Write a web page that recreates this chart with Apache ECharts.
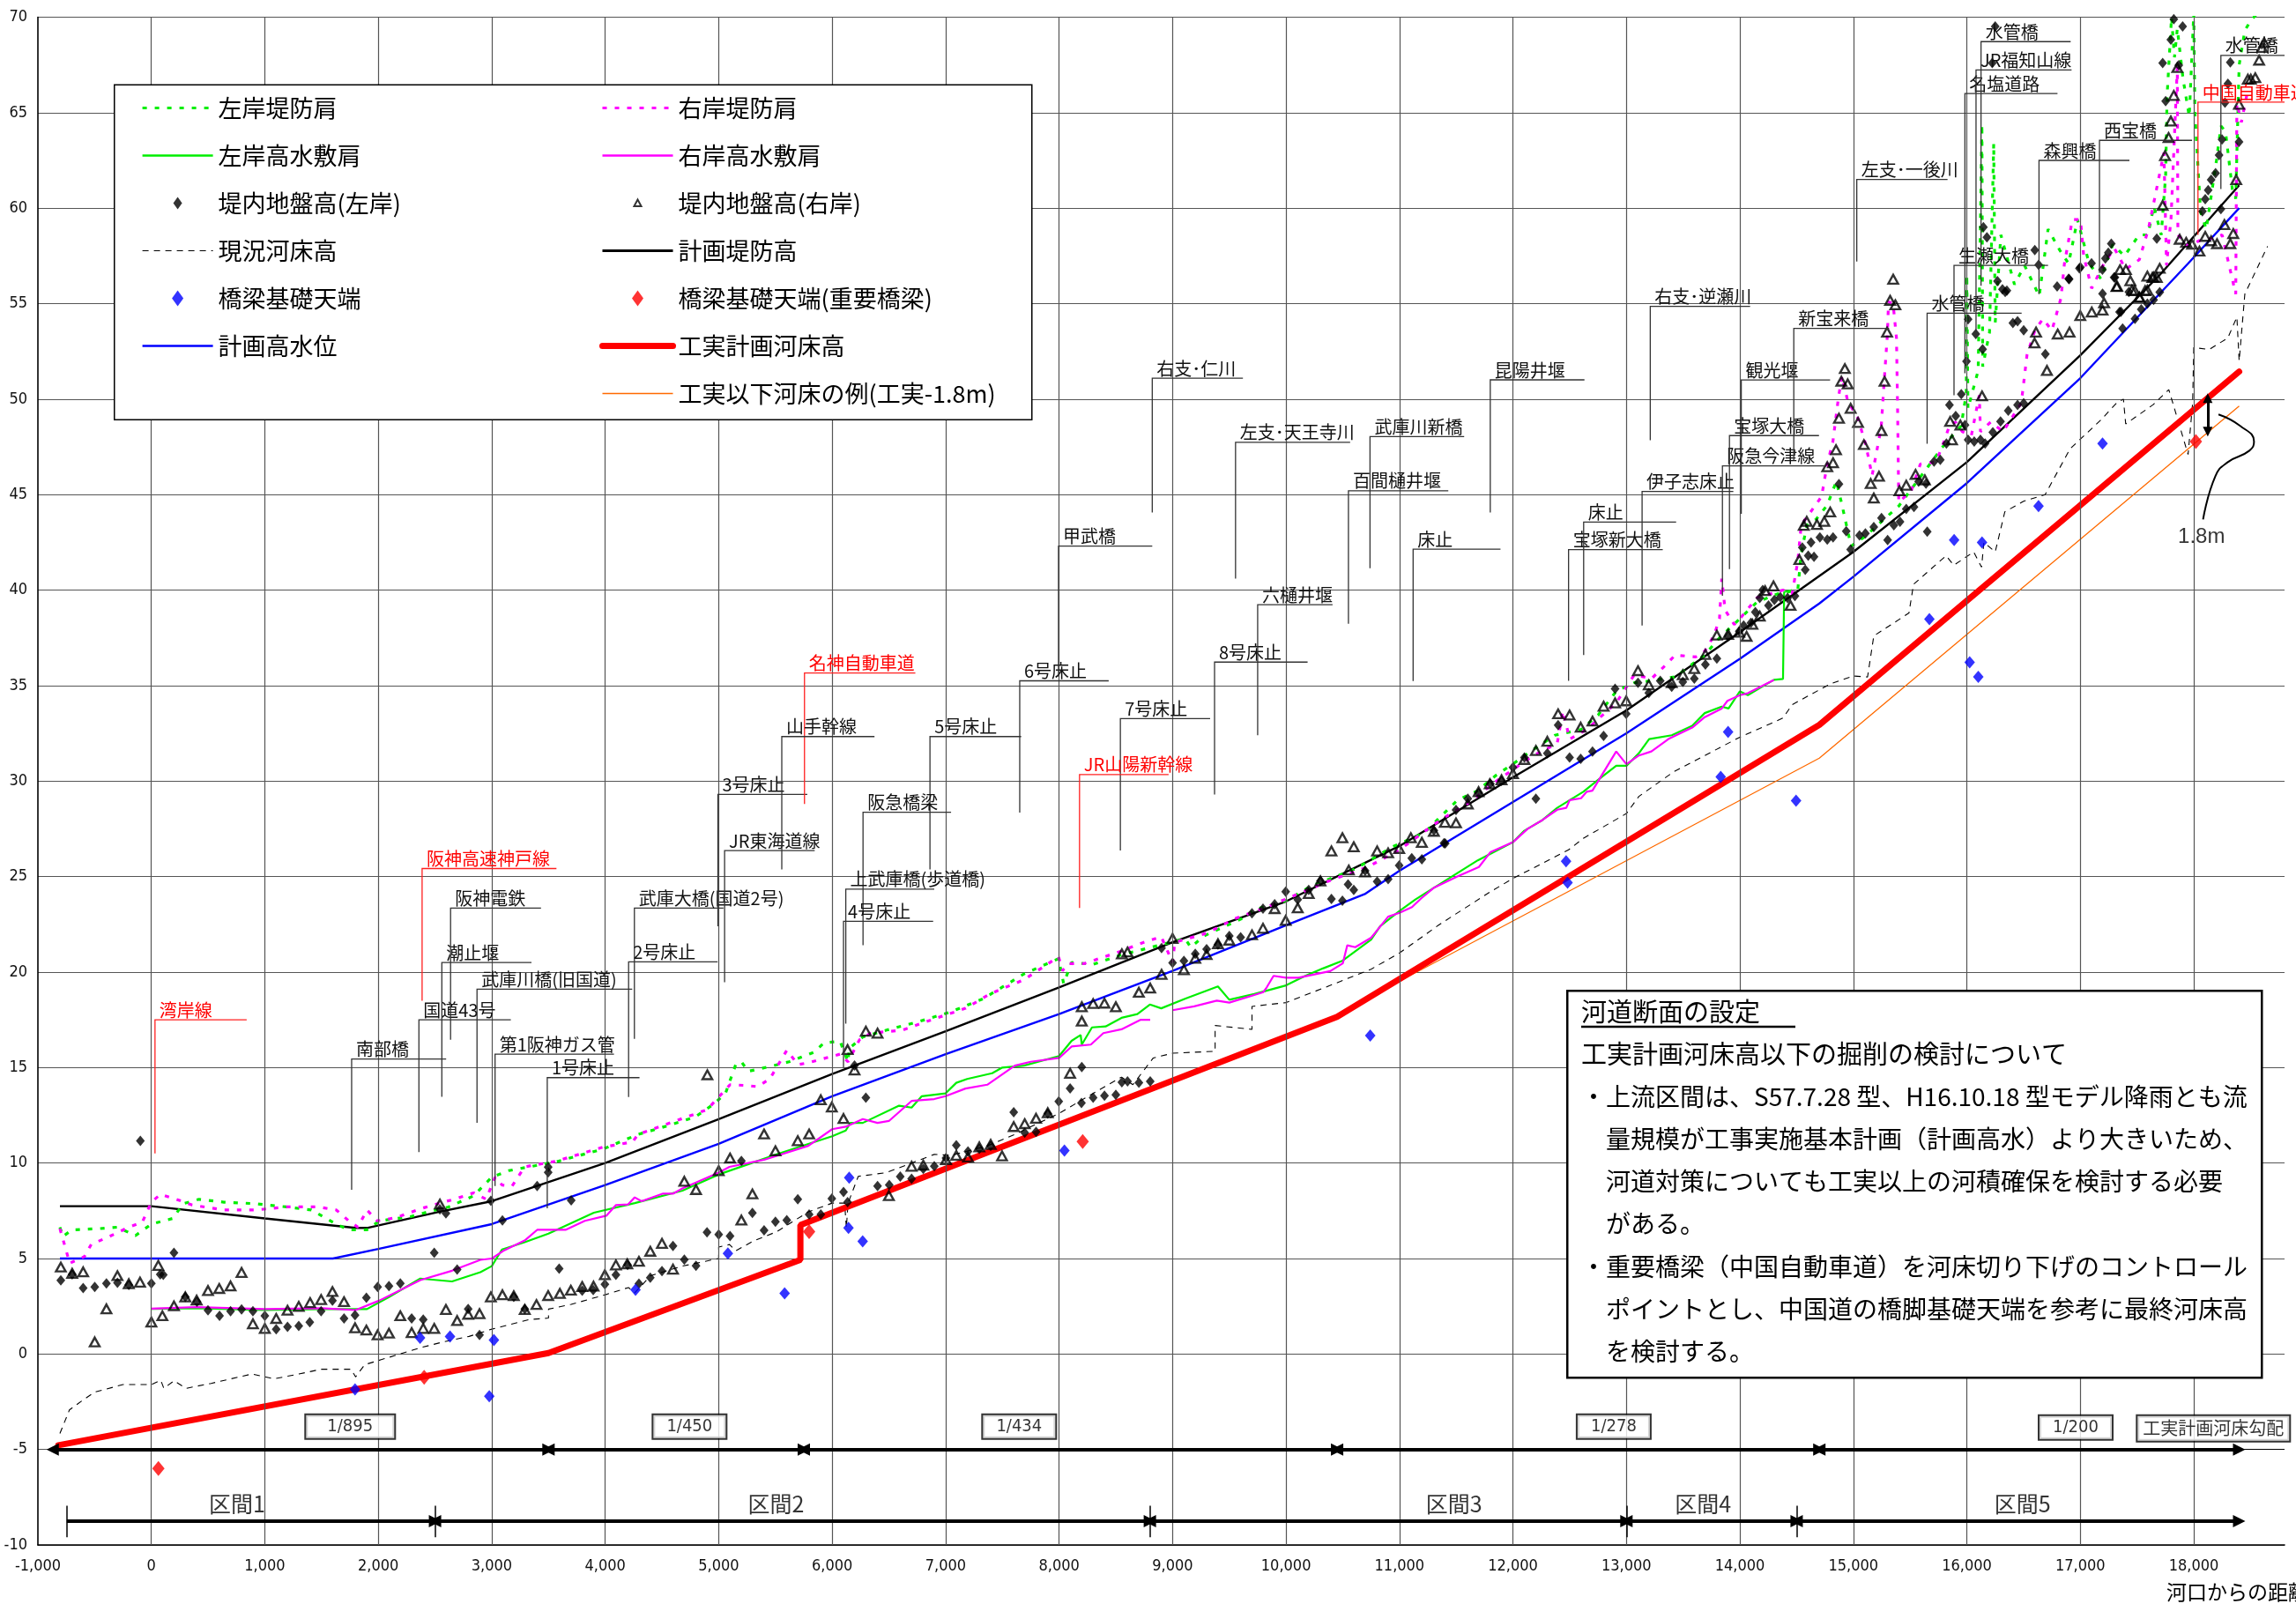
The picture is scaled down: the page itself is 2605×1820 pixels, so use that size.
<!DOCTYPE html>
<html>
<head>
<meta charset="utf-8">
<script src="https://cdn.jsdelivr.net/npm/echarts/dist/echarts.min.js"></script>
<style>
html,body{margin:0;padding:0;background:#fff;}
#chart{width:2605px;height:1820px;}
</style>
</head>
<body>
<div id="chart"></div>
<script>
// 武庫川 縦断図：河口からの距離 (m) と標高 (m)

const xTicks = [0,1000,2000,3000,4000,5000,6000,7000,8000,9000,10000,11000,12000,13000,14000,15000,16000,17000,18000];

// 左岸堤防肩
const dikeLeft = [[-806,6.64],[-780,6.15],[-700,6.5],[-470,6.56],[-300,6.64],[-140,6.2],[0,6.8],[190,7.1],[280,7.87],[420,8.1],[640,7.95],[915,7.87],[1190,7.7],[1410,7.54],[1630,6.8],[1740,6.5],[1900,6.5],[2010,6.97],[2290,7.2],[2450,7.46],[2620,7.7],[2840,8.28],[3000,9.26],[3150,9.6],[3570,10.07],[3980,10.73],[4290,11.5],[4450,11.77],[4790,12.4],[4960,13.1],[5060,13.65],[5150,15.15],[5200,15.3],[5260,14.8],[5450,15.05],[5620,15.3],[5840,15.8],[5930,16.3],[6070,16.37],[6140,15.3],[6150,16.0],[6270,16.6],[6480,16.96],[6760,17.4],[7040,17.9],[7330,18.6],[7690,19.9],[7995,20.7],[8040,19.4],[8110,20.5],[8300,20.4],[8550,20.9],[8880,21.4],[9110,21.76],[9160,21.3],[9280,21.9],[9610,22.8],[9720,23.26],[10000,23.74],[10220,24.5],[10610,25.4],[10940,26.56],[11220,27.3],[11510,29.0],[11690,29.5],[11850,30.3],[12000,30.9],[12130,31.45],[12370,32.4],[12600,32.7],[12750,33.45],[12910,34.7],[13070,35.15],[13220,35.25],[13430,35.46],[13690,36.6],[13820,37.5],[14000,38.5],[14150,39.37],[14330,39.8],[14510,40.0],[14540,41.9],[14590,43.4],[14670,43.7],[14770,44.45],[14850,45.7],[14900,44.45],[14980,42.3],[15100,42.8],[15250,43.6],[15400,44.4],[15600,46.0],[15800,47.6],[15950,48.6],[15995,50.3],[16000,56.5],[16010,49.5],[16100,51.5],[16133,64.4],[16140,51.7],[16200,53.5],[16237,63.4],[16250,54.0],[16300,58.6],[16420,56.0],[16509,57.0],[16638,55.4],[16716,58.9],[16819,57.8],[16897,57.1],[16975,59.4],[17078,57.1],[17182,56.3],[17286,58.1],[17389,57.5],[17519,58.6],[17596,58.6],[17648,60.1],[17713,58.6],[17752,61.7],[17765,65.9],[17804,70.0],[17830,67.9],[17855,69.4],[17905,66.8],[17960,64.8],[18000,70.2],[18010,65.0],[18060,59.8],[18110,58.9],[18200,62.5],[18240,64.3],[18280,64.0],[18340,61.0],[18370,60.5],[18400,67.5],[18450,69.3],[18500,69.8],[18560,70.2]];

// 右岸堤防肩
const dikeRight = [[-806,6.56],[-750,5.4],[-720,4.75],[-590,5.1],[-530,5.74],[-370,6.15],[-200,6.64],[-80,6.9],[0,7.95],[80,8.36],[220,8.1],[360,7.8],[640,7.54],[915,7.54],[1190,7.7],[1470,7.7],[1630,7.54],[1740,6.97],[1820,6.64],[1900,7.54],[1990,6.97],[2150,7.13],[2370,7.6],[2570,7.95],[2670,8.1],[2840,8.44],[2950,8.11],[3030,9.26],[3090,8.85],[3180,8.8],[3290,9.8],[3570,10.1],[3980,10.83],[4240,11.1],[4290,11.5],[4680,12.33],[4900,12.8],[4960,13.2],[5100,14.1],[5240,14.06],[5340,14.0],[5450,14.4],[5600,15.9],[5700,15.15],[5790,15.25],[6070,15.7],[6140,15.3],[6240,16.45],[6340,16.8],[6620,16.96],[6900,17.55],[7175,18.1],[7390,18.85],[7690,19.6],[7995,20.8],[8030,20.07],[8080,20.44],[8220,20.44],[8550,21.1],[8720,21.5],[8900,21.85],[9000,20.5],[9020,21.56],[9280,22.0],[9390,22.3],[9550,22.8],[9830,23.4],[10110,24.1],[10390,24.8],[10720,25.5],[11000,26.4],[11360,27.96],[11620,28.9],[11870,30.07],[12000,30.6],[12180,31.34],[12390,31.97],[12440,33.67],[12500,32.2],[12650,32.7],[12910,34.1],[13070,35.57],[13220,35.36],[13350,36.1],[13430,36.6],[13610,36.5],[13690,36.8],[13770,37.6],[13820,38.5],[13840,40.6],[13870,38.95],[13950,38.2],[14000,38.5],[14150,39.6],[14380,40.0],[14460,39.8],[14510,41.5],[14540,43.4],[14720,44.9],[14770,46.6],[14820,47.8],[14870,50.15],[14900,51.2],[14950,49.9],[15040,49.0],[15110,47.6],[15165,46.0],[15245,48.5],[15270,50.8],[15300,53.4],[15310,55.1],[15350,55.0],[15380,53.2],[15390,49.4],[15400,44.6],[15510,45.2],[15590,46.6],[15720,46.7],[15770,47.3],[15850,48.65],[15900,48.8],[15960,48.3],[16040,48.1],[16110,50.2],[16120,48.3],[16210,48.8],[16320,48.3],[16480,49.8],[16530,52.3],[16600,53.6],[16670,54.2],[16750,53.6],[16830,55.3],[16860,57.1],[16930,59.4],[17001,59.4],[17030,57.5],[17100,55.8],[17200,57.0],[17300,57.9],[17400,56.8],[17520,57.3],[17600,58.9],[17737,62.9],[17760,57.0],[17800,59.5],[17855,67.4],[17860,58.6],[17950,58.0],[18050,58.3],[18150,58.4],[18250,58.6],[18370,55.5],[18380,65.5],[18420,64.5],[18470,66.0]];

// 左岸高水敷肩
const terraceLeft = [[0,2.36],[400,2.4],[1000,2.3],[1500,2.35],[1900,2.35],[2090,2.97],[2370,3.95],[2650,3.8],[2900,4.28],[3000,4.6],[3090,5.47],[3290,5.85],[3500,6.3],[3900,7.4],[4260,7.9],[4680,8.55],[5000,9.4],[5510,10.45],[5790,11.0],[6000,11.4],[6120,11.7],[6160,12.1],[6270,12.1],[6590,13.0],[6700,12.9],[6790,13.5],[7000,13.65],[7094,14.2],[7190,14.4],[7410,14.7],[7500,15.0],[7690,15.1],[8000,15.6],[8110,16.4],[8190,16.7],[8200,16.2],[8290,17.1],[8410,17.15],[8550,17.6],[8690,17.8],[8800,18.3],[8900,18.1],[9110,18.6],[9400,19.25],[9500,18.55],[9720,18.85],[10000,19.3],[10170,19.8],[10330,20.2],[10500,20.6],[10750,21.7],[10830,22.4],[11000,23.2],[11140,23.8],[11300,24.4],[11690,25.85],[12000,26.8],[12100,27.4],[12260,27.96],[12390,28.6],[12500,29.0],[12620,29.44],[12750,30.06],[12910,30.8],[13000,30.8],[13110,31.46],[13200,32.2],[13400,32.4],[13580,32.9],[13690,33.56],[13840,33.9],[13900,33.8],[14000,34.7],[14070,34.5],[14200,34.96],[14300,35.3],[14380,35.35],[14390,39.9],[14460,40.0]];

// 右岸高水敷肩
const terraceRight = [[0,2.37],[400,2.45],[1000,2.35],[1500,2.4],[1800,2.3],[2010,2.8],[2370,3.87],[2650,4.36],[2900,4.93],[3000,5.0],[3110,5.43],[3290,5.94],[3400,6.5],[3650,6.5],[3820,6.97],[4010,7.24],[4095,7.8],[4200,7.83],[4260,8.2],[4320,8.0],[4510,8.4],[4600,8.4],[4680,8.67],[5000,9.5],[5095,9.8],[5400,10.17],[5790,10.9],[6000,11.77],[6120,11.9],[6270,12.3],[6400,12.1],[6500,12.2],[6700,13.25],[6900,13.35],[7000,13.5],[7175,13.9],[7367,14.1],[7610,15.1],[7750,15.3],[8000,15.5],[8110,16.1],[8280,16.2],[8390,16.8],[8550,17.0],[8720,17.5],[8803,17.5],[8900,null],[9000,18.0],[9190,18.2],[9390,18.5],[9500,18.4],[9720,18.8],[9800,18.95],[9830,19.2],[9890,19.8],[10000,19.7],[10110,19.7],[10390,20.05],[10500,20.45],[10540,21.4],[10610,21.3],[10750,21.8],[10900,22.9],[11000,23.1],[11110,23.4],[11190,23.85],[11300,24.4],[11510,25.0],[11700,25.5],[11800,26.27],[12000,26.8],[12130,27.5],[12260,27.96],[12390,28.5],[12470,28.6],[12500,29.0],[12600,29.1],[12650,29.44],[12700,29.5],[12910,31.55],[13000,30.88],[13110,31.34],[13220,31.55],[13370,32.2],[13580,32.8],[13690,33.35],[13840,33.8],[13890,34.2],[14000,34.5],[14070,34.6],[14300,35.3]];

// 堤内地盤高(左岸)
const groundLeft = [[-97,11.16],[-798,3.86],[-698,4.17],[-601,3.45],[-499,3.51],[-396,3.7],[-299,3.73],[-199,3.61],[0,3.7],[78,4.17],[105,4.14],[199,5.3],[299,2.99],[402,2.74],[499,2.29],[601,2.0],[698,2.24],[795,2.33],[895,2.24],[1000,2.0],[1100,1.29],[1200,1.42],[1299,1.47],[1396,1.67],[1496,2.24],[1596,2.79],[1698,1.86],[1795,2.03],[1895,2.94],[1994,3.51],[2094,3.56],[2194,3.7],[2294,1.86],[2396,1.8],[2493,5.3],[2543,7.57],[2596,7.36],[2695,4.42],[2792,2.36],[2892,1.0],[2992,8.02],[3094,7.0],[3194,2.99],[3291,2.36],[3400,8.8],[3497,9.79],[3497,9.51],[3700,8.05],[3594,4.47],[3797,3.31],[3894,3.35],[3997,3.65],[4094,4.15],[4197,4.66],[4297,3.68],[4397,4.0],[4500,4.34],[4597,5.66],[4697,4.94],[4800,4.62],[4897,6.37],[5000,6.26],[5100,6.18],[5200,10.11],[5297,7.39],[5400,6.47],[5500,6.92],[5600,7.01],[5697,8.1],[5797,7.31],[5900,7.31],[5997,8.14],[6100,8.48],[6136,7.95],[6197,15.11],[6297,13.42],[6400,8.8],[6503,8.85],[6600,9.29],[6700,9.17],[6803,9.7],[6900,9.83],[7003,10.26],[7094,10.93],[7197,10.61],[7297,10.74],[7397,10.89],[7600,12.66],[7697,11.59],[7797,11.63],[7900,12.59],[7997,13.23],[8097,13.91],[8200,15.02],[8197,13.14],[8300,13.42],[8400,13.53],[8500,13.57],[8553,14.23],[8603,14.27],[8703,14.21],[8803,14.27],[8903,21.25],[9000,20.48],[9100,20.59],[9200,20.95],[9300,21.2],[9400,21.44],[9500,21.89],[9600,21.82],[9700,23.08],[9797,23.32],[9900,23.55],[9997,24.21],[10103,23.79],[10200,24.3],[10303,24.77],[10400,23.83],[10497,23.74],[10547,24.59],[10597,24.3],[10697,25.3],[10803,24.74],[10900,24.87],[10997,25.58],[11108,25.96],[11197,25.9],[11303,27.41],[11392,26.75],[11403,26.73],[11498,28.49],[11602,29.08],[11697,29.38],[11801,29.86],[11899,30.01],[12000,30.71],[12101,31.24],[12202,29.08],[12303,31.45],[12398,32.93],[12499,31.24],[12597,31.17],[12701,31.55],[12799,32.36],[12900,34.83],[12998,33.52],[13102,35.15],[13197,34.62],[13298,35.25],[13399,34.94],[13497,35.19],[13598,35.36],[13696,36.1],[13797,36.42],[13896,37.58],[13994,37.85],[14033,38.15],[14097,38.28],[14136,38.85],[14175,39.59],[14201,40.0],[14252,39.2],[14304,39.48],[14356,39.63],[14420,39.59],[14485,39.69],[14550,42.23],[14576,41.07],[14602,41.8],[14627,42.5],[14653,41.74],[14705,42.76],[14770,42.65],[14821,42.76],[14873,45.55],[14937,43.08],[14976,42.12],[15054,42.86],[15106,42.97],[15180,43.3],[15248,43.77],[15302,42.62],[15357,43.39],[15411,43.58],[15466,44.25],[15534,44.35],[15575,45.68],[15640,45.58],[15651,43.06],[15711,46.73],[15766,46.82],[15820,47.68],[15847,49.69],[15902,49.12],[15951,50.26],[15984,48.64],[16011,47.87],[16065,47.78],[16120,47.87],[16161,47.68],[16229,48.26],[16297,48.83],[16365,49.4],[16447,49.69],[16501,49.79],[15997,51.98],[16011,54.18],[16079,53.41],[16139,52.61],[16270,56.18],[16338,55.61],[16406,53.99],[16447,54.08],[16501,53.6],[16692,52.36],[16796,55.9],[16902,56.28],[16992,56.85],[17196,55.52],[17305,56.38],[17346,54.56],[17428,55.61],[17373,53.7],[17482,54.2],[17537,54.7],[17591,55.0],[17646,55.2],[17700,55.6],[16250,69.52],[16224,67.6],[16146,59.01],[16177,58.47],[16314,55.75],[16353,55.68],[16599,57.8],[16633,57.03],[16897,56.3],[17001,56.9],[17099,57.11],[17195,56.78],[17221,57.37],[17247,57.67],[17273,58.14],[17298,56.37],[17358,54.57],[17674,58.41],[17726,67.6],[17752,65.6],[17798,68.82],[17824,69.9],[17902,69.52],[17868,67.49],[18076,59.83],[18101,60.47],[18127,60.94],[18153,61.49],[18192,61.83],[18223,62.78],[18249,63.6],[18239,59.95],[18275,65.52],[18301,66.52],[18322,67.64],[18399,63.47]];

// 堤内地盤高(右岸)
const groundRight = [[-798,4.55],[-698,4.22],[-601,4.3],[-499,0.63],[-396,2.36],[-299,4.1],[-199,3.68],[-100,3.76],[0,1.67],[61,4.64],[97,2.0],[199,2.52],[299,2.99],[399,2.82],[499,3.32],[598,3.43],[698,3.56],[795,4.27],[895,1.58],[1000,1.34],[1100,1.86],[1200,2.29],[1299,2.49],[1399,2.69],[1496,2.85],[1596,3.27],[1698,2.74],[1795,1.37],[1895,1.25],[1994,1.0],[2094,1.09],[2194,2.0],[2294,1.12],[2396,1.34],[2493,1.34],[2543,7.85],[2596,2.33],[2695,1.75],[2792,2.08],[2892,2.11],[2992,2.99],[3094,3.1],[3194,3.05],[3291,2.33],[3394,2.59],[3497,3.06],[3600,3.17],[3697,3.34],[3797,3.53],[3897,3.55],[3997,4.15],[4094,4.66],[4194,4.72],[4297,4.85],[4397,5.38],[4500,5.79],[4597,4.44],[4697,9.04],[4800,8.61],[4900,14.62],[5000,9.6],[5100,10.26],[5200,7.01],[5297,8.38],[5400,11.52],[5500,10.64],[5697,11.17],[5797,11.52],[5900,13.31],[5997,12.93],[6100,12.33],[6136,15.94],[6197,14.87],[6297,16.9],[6400,16.8],[6500,8.29],[6700,9.83],[6803,9.89],[7003,10.17],[7094,10.4],[7197,10.31],[7297,10.84],[7397,10.97],[7497,10.37],[7600,11.91],[7697,12.06],[7797,12.34],[7900,12.63],[8097,14.7],[8200,18.18],[8200,17.43],[8300,18.35],[8400,18.37],[8500,18.18],[8553,20.95],[8603,21.05],[8703,18.94],[8803,19.16],[8903,19.88],[9000,21.76],[9100,20.12],[9200,20.72],[9300,20.91],[9400,21.48],[9500,21.67],[9700,21.95],[9797,22.29],[9900,23.32],[9997,22.7],[10103,23.36],[10200,24.11],[10303,24.77],[10400,26.34],[10497,27.03],[10597,26.56],[10553,25.34],[10697,25.24],[10803,26.34],[10900,26.24],[10997,26.47],[11100,27.03],[11197,26.79],[11303,27.37],[11400,27.84],[11498,27.81],[11602,28.8],[11697,29.44],[11796,29.86],[11899,30.07],[12000,30.39],[12101,31.13],[12202,31.6],[12303,32.08],[12398,33.52],[12499,33.46],[12597,32.82],[12701,33.14],[12799,33.92],[12900,34.09],[12998,34.2],[13102,35.78],[13197,35.04],[13399,35.15],[13497,35.57],[13598,35.89],[13696,36.63],[13797,37.64],[13896,37.68],[13994,37.79],[14059,37.58],[14110,38.21],[14175,38.64],[14222,39.97],[14296,40.22],[14446,39.2],[14524,41.6],[14563,43.39],[14589,43.6],[14679,43.44],[14744,43.6],[14796,44.09],[14770,46.46],[14821,46.67],[14847,47.35],[14873,49.0],[14894,50.94],[14925,51.6],[14950,50.8],[14976,49.52],[15041,48.78],[15093,47.62],[15153,45.58],[15180,44.82],[15226,45.96],[15248,48.35],[15275,50.93],[15297,53.51],[15324,55.17],[15351,56.28],[15370,54.94],[15406,45.2],[15466,45.49],[15548,46.06],[15630,45.77],[15853,48.83],[15869,47.87],[15943,48.64],[16134,50.17],[16610,53.51],[16597,52.94],[16706,51.5],[16801,53.41],[16905,53.51],[17000,54.37],[17101,54.56],[17196,54.66],[17210,55.04],[17319,55.9],[17455,55.7],[17523,55.32],[17591,55.7],[17646,56.38],[17700,56.85],[17325,55.91],[17350,56.78],[17402,56.78],[17441,56.2],[17480,55.68],[17519,55.34],[17571,55.68],[17591,56.44],[17635,56.37],[17674,56.37],[17726,60.14],[17747,62.75],[17778,63.7],[17798,64.56],[17824,65.9],[17855,67.36],[17876,58.37],[17933,58.21],[17985,58.11],[18050,57.75],[18101,58.52],[18153,58.29],[18205,58.14],[18270,59.14],[18322,58.14],[18348,58.67],[18374,61.49],[18399,65.44],[18477,66.75],[18503,66.75],[18542,66.83],[18576,67.75],[18602,68.41],[18620,68.67]];

// 現況河床高
const bedNow = [[-806,-4.16],[-722,-2.93],[-600,-2.4],[-500,-2.0],[-250,-1.6],[0,-1.6],[83,-1.38],[110,-1.8],[200,-1.4],[305,-1.8],[526,-1.54],[886,-1.05],[1080,-1.3],[1300,-1.05],[1496,-0.8],[1760,-0.8],[1800,-1.2],[1880,-0.56],[2025,-0.3],[2380,0.34],[2550,0.6],[2800,0.92],[3000,1.3],[3330,1.8],[3500,1.88],[3500,2.35],[3700,2.6],[4000,3.1],[4205,3.48],[4260,3.2],[4400,4.1],[4680,4.6],[5000,5.0],[5000,5.6],[5095,5.73],[5150,5.4],[5300,5.9],[5510,6.4],[5790,7.44],[6000,7.9],[6110,7.9],[6125,6.6],[6140,7.9],[6230,9.3],[6480,9.5],[6900,10.45],[7050,10.4],[7367,10.9],[7610,11.5],[8000,12.6],[8200,13.3],[8550,14.5],[8650,14.1],[8830,15.5],[9000,15.75],[9375,15.85],[9375,17.2],[9700,17.0],[9700,18.2],[10000,18.4],[10390,19.3],[10750,20.15],[11000,21.0],[11355,22.5],[11800,24.2],[12000,24.9],[12490,26.4],[12620,27.0],[13000,28.3],[13110,29.2],[13420,30.5],[14000,32.3],[14380,33.3],[14460,34.0],[14800,35.1],[15000,35.5],[15125,35.45],[15180,37.6],[15490,38.8],[15530,40.3],[15817,41.8],[15885,41.3],[16060,42.0],[16130,41.2],[16150,42.5],[16250,42.0],[16335,44.1],[16500,44.65],[16690,45.0],[16910,47.4],[17180,48.9],[17320,49.8],[17380,50.0],[17400,48.7],[17640,49.7],[17780,50.5],[17950,47.1],[17990,49.8],[18000,52.7],[18136,52.6],[18245,53.0],[18300,53.2],[18380,54.3],[18400,52.0],[18450,55.5],[18570,57.0],[18650,58.0]];

// 計画堤防高
const planDike = [[-806,7.74],[0,7.74],[1000,7.1],[1800,6.6],[1900,6.6],[2550,7.46],[3000,8.0],[4000,10.0],[5000,12.3],[6000,14.66],[7000,16.9],[8000,19.2],[9000,21.56],[10000,23.7],[11000,26.6],[12000,30.2],[13000,33.7],[14000,37.8],[15000,42.0],[16000,46.7],[17000,52.3],[17700,56.5],[18400,61.2]];

// 計画高水位
const planFlood = [[-806,5.0],[1600,5.0],[2000,5.5],[3000,6.8],[4000,8.85],[5000,11.0],[6000,13.5],[7000,15.7],[8000,17.8],[9000,20.06],[10000,22.45],[10700,24.1],[11000,25.3],[12000,28.9],[13000,32.5],[14000,36.4],[14700,39.3],[15000,40.7],[16000,45.6],[17000,51.1],[17950,57.1],[18400,60.0]];

// 工実計画河床高
const bedPlan = [[-820,-4.78],[3500,0.05],[5720,4.93],[5720,6.75],[10450,17.65],[14700,32.94],[18400,51.44]];

// 工実以下河床の例 (工実-1.8m)
const bedExample = [[10750,18.73],[14700,31.2],[18400,49.64]];

// 橋梁基礎天端
const pierTops = [[1795,-1.85],[2368,0.84],[2632,0.92],[3019,0.73],[2978,-2.21],[4267,3.36],[5081,5.26],[5581,3.18],[6150,9.23],[6144,6.6],[6269,5.9],[8047,10.65],[10742,16.68],[12468,25.8],[12481,24.68],[13831,30.22],[13896,32.57],[14495,28.97],[15670,38.48],[15888,42.62],[16134,42.49],[16632,44.4],[17196,47.68],[16025,36.22],[16101,35.46]];

// 橋梁基礎天端(重要橋梁)
const pierTopsKey = [[62,-6.0],[2404,-1.22],[5797,6.41],[8208,11.12],[18019,47.78]];

// 構造物の注記：名称, 位置, 引出線の下端・上端標高, 下線の終点
const noteNames = ['湾岸線','南部橋','国道43号','阪神高速神戸線','潮止堰','阪神電鉄','武庫川橋(旧国道)','第1阪神ガス管','1号床止','2号床止','武庫大橋(国道2号)','3号床止','JR東海道線','名神自動車道','山手幹線','5号床止','阪急橋梁','上武庫橋(歩道橋)','4号床止','6号床止','7号床止','JR山陽新幹線','8号床止','甲武橋','右支･仁川','左支･天王寺川','六樋井堰','百間樋井堰','武庫川新橋','床止','昆陽井堰','宝塚新大橋','床止','伊子志床止','右支･逆瀬川','阪急今津線','宝塚大橋','観光堰','新宝来橋','左支･一後川','水管橋','生瀬大橋','名塩道路','JR福知山線','水管橋','森興橋','西宝橋','中国自動車道','水管橋'];
const noteX    = [32,1765,2358,2386,2560,2637,2870,3029,3489,4206,4257,4993,5052,5756,5556,6862,6272,6120,6100,7653,8540,8180,9370,7995,8821,9555,9750,10550,10740,11120,11800,12490,12623,13138,13210,13846,13908,14012,14475,15030,15650,15887,15983,16081,16125,16636,17169,18037,18239];
const noteFoot = [10.5,8.6,10.57,18.5,13.47,16.45,12.1,8.8,7.63,13.46,16.5,22.4,19.47,28.8,25.37,25.37,21.4,17.3,15.0,28.35,26.36,23.36,29.3,35.47,44.06,40.6,32.4,38.24,41.14,35.24,44.06,35.25,36.6,38.15,47.85,39.7,41.1,44.0,46.8,57.2,47.66,50.2,51.35,53.3,55.94,55.5,56.6,58.6,61.0];
const noteTop  = [17.5,15.45,17.5,25.42,20.5,23.35,19.1,15.7,14.47,20.53,23.35,29.3,26.36,35.66,32.33,32.33,28.37,24.34,22.66,35.25,33.27,30.34,36.23,42.3,51.1,47.74,39.24,45.2,48.04,42.14,51.01,42.12,43.56,45.17,54.86,46.5,48.09,51.0,53.7,61.5,54.5,57.0,66.0,67.24,68.72,62.5,63.55,65.55,68.0];
const noteEnd  = [840,2598,3168,3570,3350,3434,4238,4077,4302,4990,5042,5781,5846,6733,6373,7666,7048,6900,6890,8437,9331,8965,10190,8821,9620,10565,10410,11430,11570,11890,12630,13320,13438,13942,14090,14744,14697,14795,15315,15830,16483,16716,16799,16923,16915,17433,17985,18800,18800];
const noteRed  = ['湾岸線','阪神高速神戸線','名神自動車道','JR山陽新幹線','中国自動車道'];

// 工実計画河床勾配の区切り
const slopeSpans = [[-870,3500],[3500,5750],[5750,10450],[10450,14700],[14700,18400]];
const slopeNames = ['1/895','1/450','1/434','1/278','1/200','工実計画河床勾配'];
const slopeLabelX = [1752,4743,7648,12888,16959,18173];
const slopeLabelY = [-3.8,-3.8,-3.8,-3.8,-3.85,-3.9];

// 区間
const reachSpans = [[-745,2500],[2500,8800],[8800,13000],[13000,14500],[14500,18400]];
const reachNames = ['区間1','区間2','区間3','区間4','区間5'];
const reachLabelX = [755,5505,11481,13675,16490];
const reachTicks = [-745,2500,8800,13000,14500];

// 1.8m の引出し
const gapArrow = [[18123,50.05],[18123,48.3]];
const gapLeader = [[18218,49.2],[18409,48.6],[18531,47.78],[18490,47.3],[18300,46.7],[18191,45.97],[18082,43.7]];
const gapLabel = [18068,42.8];

const CJK = '"Noto Sans CJK JP", "Noto Sans CJK SC", sans-serif';
const NUM = '"Liberation Sans Narrow", "DejaVu Sans Condensed", "Liberation Sans", sans-serif';

const chart = echarts.init(document.getElementById('chart'), null, {renderer: 'canvas'});

const dotted = [5, 9];
const lineBase = {type: 'line', symbol: 'none', showSymbol: false, animation: false, silent: true, connectNulls: false};

// 線の凡例は記号を出さず、線幅は系列と同じにする
const lineItem = (name, w) => ({name: name, itemStyle: {opacity: 0}, lineStyle: {width: w}});
const legendLeft = [
  lineItem('左岸堤防肩', 3.2),
  lineItem('左岸高水敷肩', 2.4),
  {name: '堤内地盤高(左岸)', icon: 'path://M-9,-9M9,9M0,-7L5,0L0,7L-5,0Z'},
  lineItem('現況河床高', 1.2),
  {name: '橋梁基礎天端', icon: 'path://M0,-9L6.5,0L0,9L-6.5,0Z'},
  lineItem('計画高水位', 2.6)
];
const legendRight = [
  lineItem('右岸堤防肩', 3.2),
  lineItem('右岸高水敷肩', 2.4),
  {name: '堤内地盤高(右岸)', icon: 'path://M-10,-10M10,10M0,-4.5L4.5,4L-4.5,4Z'},
  lineItem('計画堤防高', 2.8),
  {name: '橋梁基礎天端(重要橋梁)', icon: 'path://M0,-9L6.5,0L0,9L-6.5,0Z'},
  lineItem('工実計画河床高', 7),
  lineItem('工実以下河床の例(工実-1.8m)', 1.4)
];
const legendCommon = {
  orient: 'vertical', top: 104, itemWidth: 80, itemHeight: 18, itemGap: 27,
  selectedMode: false, z: 10,
  textStyle: {fontSize: 27, fontFamily: CJK, color: '#000', padding: [0, 0, 0, 1]}
};

const bodyFont = '28px ' + CJK;
const boxLines = [
  {x: 1794, y: 1148, t: '河道断面の設定', f: '29px ' + CJK},
  {x: 1794, y: 1196, t: '工実計画河床高以下の掘削の検討について', f: '29px ' + CJK},
  {x: 1794, y: 1244, t: '・上流区間は、S57.7.28 型、H16.10.18 型モデル降雨とも流', f: bodyFont},
  {x: 1822, y: 1292, t: '量規模が工事実施基本計画（計画高水）より大きいため、', f: bodyFont},
  {x: 1822, y: 1340, t: '河道対策についても工実以上の河積確保を検討する必要', f: bodyFont},
  {x: 1822, y: 1388, t: 'がある。', f: bodyFont},
  {x: 1794, y: 1437, t: '・重要橋梁（中国自動車道）を河床切り下げのコントロール', f: bodyFont},
  {x: 1822, y: 1485, t: 'ポイントとし、中国道の橋脚基礎天端を参考に最終河床高', f: bodyFont},
  {x: 1822, y: 1533, t: 'を検討する。', f: bodyFont}
];

const option = {
  animation: false,
  backgroundColor: '#ffffff',
  grid: {left: 43, right: 13, top: 19.5, bottom: 67, containLabel: false, outerBoundsMode: 'none'},
  xAxis: {
    type: 'value', min: -1000, max: 18800, interval: 1000,
    axisLine: {show: true, onZero: false, lineStyle: {color: '#000', width: 1.6}},
    axisTick: {show: false},
    splitLine: {show: false},
    axisLabel: {
      fontSize: 18, fontFamily: NUM, color: '#111', margin: 15, hideOverlap: false,
      formatter: v => (v % 1000 === 0 ? v.toLocaleString('en-US') : '')
    }
  },
  yAxis: {
    type: 'value', min: -10, max: 70, interval: 5,
    axisLine: {show: true, onZero: false, lineStyle: {color: '#000', width: 1.6}},
    axisTick: {show: false},
    splitLine: {show: true, lineStyle: {color: '#555', width: 1.2}},
    axisLabel: {fontSize: 18, fontFamily: NUM, color: '#111', margin: 12}
  },
  legend: [
    Object.assign({}, legendCommon, {left: 155, data: legendLeft}),
    Object.assign({}, legendCommon, {left: 675, data: legendRight})
  ],
  graphic: [
    {type: 'rect', left: 129, top: 95.5, z: 8, shape: {width: 1041, height: 380}, style: {fill: '#fff', stroke: '#000', lineWidth: 1.5}},
    {type: 'rect', left: 1777, top: 1123, z: 8, shape: {width: 788, height: 439}, style: {fill: '#fff', stroke: '#000', lineWidth: 2.5}},
    {type: 'line', z: 9, shape: {x1: 1794, y1: 1165, x2: 2037, y2: 1165}, style: {stroke: '#000', lineWidth: 2.5}}
  ].concat(boxLines.map(l => ({
    type: 'text', z: 9, x: l.x, y: l.y,
    style: {text: l.t, font: l.f, fill: '#000', verticalAlign: 'middle', align: 'left'}
  }))).concat([
    {type: 'text', z: 9, x: 2458, y: 1806, style: {text: '河口からの距離', font: '23px ' + CJK, fill: '#000', verticalAlign: 'middle', align: 'left'}}
  ]),
  series: [
    // 縦グリッド線
    Object.assign({}, lineBase, {
      name: 'grid-x', data: [], z: 1,
      markLine: {silent: true, symbol: 'none', label: {show: false}, animation: false,
        lineStyle: {color: '#555', width: 1.2, type: 'solid'},
        data: xTicks.map(v => ({xAxis: v}))}
    }),
    Object.assign({}, lineBase, {name: '現況河床高', data: bedNow, z: 3,
      itemStyle: {color: '#000'}, lineStyle: {color: '#000', width: 1.1, type: [7, 6]}}),
    Object.assign({}, lineBase, {name: '工実以下河床の例(工実-1.8m)', data: bedExample, z: 3,
      itemStyle: {color: '#ff6a00'}, lineStyle: {color: '#ff6a00', width: 1.3}}),
    Object.assign({}, lineBase, {name: '工実計画河床高', data: bedPlan, z: 3,
      itemStyle: {color: '#ff0000'}, lineStyle: {color: '#ff0000', width: 7, cap: 'round'}}),
    Object.assign({}, lineBase, {name: '計画高水位', data: planFlood, z: 3,
      itemStyle: {color: '#0000ff'}, lineStyle: {color: '#0000ff', width: 2.4}}),
    Object.assign({}, lineBase, {name: '計画堤防高', data: planDike, z: 3,
      itemStyle: {color: '#000'}, lineStyle: {color: '#000', width: 2.4}}),
    Object.assign({}, lineBase, {name: '左岸高水敷肩', data: terraceLeft, z: 3,
      itemStyle: {color: '#00ee00'}, lineStyle: {color: '#00ee00', width: 2.2}}),
    Object.assign({}, lineBase, {name: '右岸高水敷肩', data: terraceRight, z: 3,
      itemStyle: {color: '#ff00ff'}, lineStyle: {color: '#ff00ff', width: 2.2}}),
    Object.assign({}, lineBase, {name: '左岸堤防肩', data: dikeLeft, z: 3,
      itemStyle: {color: '#00ee00'}, lineStyle: {color: '#00ee00', width: 3.2, type: dotted}}),
    Object.assign({}, lineBase, {name: '右岸堤防肩', data: dikeRight, z: 3,
      itemStyle: {color: '#ff00ff'}, lineStyle: {color: '#ff00ff', width: 3.2, type: dotted}}),
    {type: 'scatter', name: '堤内地盤高(左岸)', data: groundLeft, z: 4, silent: true,
      symbol: 'diamond', symbolSize: [10, 12], itemStyle: {color: '#000'}},
    {type: 'scatter', name: '堤内地盤高(右岸)', data: groundRight, z: 4, silent: true,
      symbol: 'triangle', symbolSize: [11, 10], itemStyle: {color: 'rgba(255,255,255,0)', borderColor: '#000', borderWidth: 2.4}},
    {type: 'scatter', name: '橋梁基礎天端', data: pierTops, z: 5, silent: true,
      symbol: 'diamond', symbolSize: [12, 14], itemStyle: {color: '#0000ff'}},
    {type: 'scatter', name: '橋梁基礎天端(重要橋梁)', data: pierTopsKey, z: 5, silent: true,
      symbol: 'diamond', symbolSize: [14, 17], itemStyle: {color: '#ff0000'}},
    // 構造物の注記と引出線
    {
      type: 'custom', name: 'notes', coordinateSystem: 'cartesian2d', silent: true, z: 6, clip: false,
      data: noteX.map((x, i) => [x, noteFoot[i], noteTop[i], noteEnd[i]]),
      encode: {x: [0, 3], y: [1, 2]},
      renderItem: function (params, api) {
        const i = params.dataIndex;
        const foot = api.coord([api.value(0), api.value(1)]);
        const top = api.coord([api.value(0), api.value(2)]);
        const end = api.coord([api.value(3), api.value(2)]);
        const red = noteRed.indexOf(noteNames[i]) >= 0;
        const col = red ? '#ff2020' : '#333';
        return {
          type: 'group',
          children: [
            {type: 'polyline', shape: {points: [foot, top, end]}, style: {stroke: col, lineWidth: 1.3, fill: null}},
            {type: 'text', x: top[0] + 5, y: top[1] - 1,
              style: {text: noteNames[i], fill: red ? '#ff0000' : '#111', font: '20px ' + CJK, align: 'left', verticalAlign: 'bottom'}}
          ]
        };
      }
    },
    // 河床勾配の矢印
    {type: 'lines', name: 'slope-arrows', coordinateSystem: 'cartesian2d', silent: true, z: 5,
      symbol: ['triangle', 'triangle'], symbolSize: 14,
      lineStyle: {color: '#000', width: 4, opacity: 1},
      data: slopeSpans.map(s => ({coords: [[s[0], -5], [s[1], -5]]}))},
    {type: 'lines', name: 'slope-tail', coordinateSystem: 'cartesian2d', silent: true, z: 5,
      symbol: ['none', 'none'], lineStyle: {color: '#000', width: 1, opacity: 1},
      data: [{coords: [[slopeSpans[4][1], -5], [18800, -5]]}]},
    // 区間の矢印
    {type: 'lines', name: 'reach-arrows', coordinateSystem: 'cartesian2d', silent: true, z: 5,
      symbol: ['triangle', 'triangle'], symbolSize: 14,
      lineStyle: {color: '#000', width: 4, opacity: 1},
      data: reachSpans.map((s, i) => ({coords: [[s[0], -8.75], [s[1], -8.75]], symbol: i === 0 ? ['none', 'triangle'] : ['triangle', 'triangle']}))},
    {type: 'lines', name: 'reach-ticks', coordinateSystem: 'cartesian2d', silent: true, z: 5,
      symbol: ['none', 'none'], lineStyle: {color: '#000', width: 1.5, opacity: 1},
      data: reachTicks.map(x => ({coords: [[x, -7.95], [x, -9.6]]}))},
    {type: 'scatter', name: 'reach-labels', silent: true, z: 6, symbolSize: 0,
      data: reachLabelX.map((x, i) => ({name: reachNames[i], value: [x, -7.85]})),
      label: {show: true, position: 'inside', formatter: '{b}', fontSize: 25, fontFamily: CJK, color: '#000'}},
    {type: 'scatter', name: 'slope-labels', silent: true, z: 7, symbolSize: 0,
      data: slopeLabelX.map((x, i) => ({
        name: slopeNames[i], value: [x, slopeLabelY[i]],
        label: i === slopeNames.length - 1
          ? {padding: [4, 6, 4, 6], fontFamily: CJK}
          : {padding: [3, 0, 3, 0], width: i === 0 ? 100 : 82}
      })),
      label: {show: true, position: 'inside', formatter: '{b}', fontSize: 20, fontFamily: NUM, color: '#000',
        align: 'center', backgroundColor: '#fff', borderColor: '#000', borderWidth: 2}},
    // 1.8m
    {type: 'lines', name: 'gap-arrow', coordinateSystem: 'cartesian2d', silent: true, z: 6,
      symbol: ['triangle', 'triangle'], symbolSize: 11,
      lineStyle: {color: '#000', width: 3, opacity: 1},
      data: [{coords: gapArrow}]},
    Object.assign({}, lineBase, {name: 'gap-leader', data: gapLeader, z: 6, smooth: 0.5,
      lineStyle: {color: '#000', width: 2}}),
    {type: 'scatter', name: 'gap-label', silent: true, z: 6, symbolSize: 0,
      data: [{name: '1.8m', value: gapLabel}],
      label: {show: true, position: 'inside', formatter: '{b}', fontSize: 24, fontFamily: '"Liberation Sans", sans-serif', color: '#000'}}
  ]
};

chart.setOption(option);
</script>
</body>
</html>
